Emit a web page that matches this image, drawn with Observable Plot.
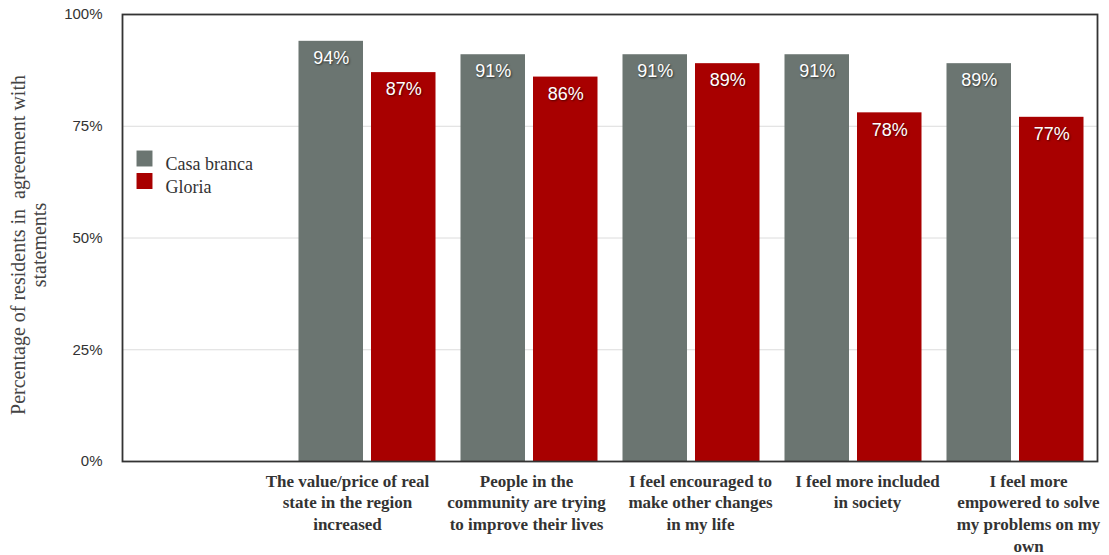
<!DOCTYPE html>
<html>
<head>
<meta charset="utf-8">
<script src="https://cdn.jsdelivr.net/npm/d3@7"></script>
<script src="https://cdn.jsdelivr.net/npm/@observablehq/plot@0.6"></script>
<style>
  html, body { margin: 0; padding: 0; background: #fff; }
  .vlabel text { text-shadow: 1px 1px 2px rgba(0,0,0,0.55); }
</style>
</head>
<body>
<div id="chart"></div>
<script>
const categories = [
  "The value/price of real\nstate in the region\nincreased",
  "People in the\ncommunity are trying\nto improve their lives",
  "I feel encouraged to\nmake other changes\nin my life",
  "I feel more included\nin society",
  "I feel more\nempowered to solve\nmy problems on my\nown"
];
const series = ["Casa branca", "Gloria"];
const casaBranca = [94, 91, 91, 91, 89];
const gloria = [87, 86, 89, 78, 77];
const colors = ["#6b7571", "#a80000"];
const yTicks = [0, 25, 50, 75, 100];
const yTitle = "Percentage of residents in  agreement with\nstatements";

const blank = " ";
const rows = [
  ...categories.map((c, i) => ({category: c, series: series[0], value: casaBranca[i]})),
  ...categories.map((c, i) => ({category: c, series: series[1], value: gloria[i]}))
];

const W = 1109, H = 555;
const mL = 122, mR = 12, mT = 14, mB = 94;
const band = (W - mL - mR) / (categories.length + 1);
const outer = 12.5, gap = 7.5;
const barW = (band - 2 * outer - gap) / 2;
// horizontal nudges of the category labels (style only)
const labelShift = [-20, -3, 9, 14, 13];

const serif = "'Liberation Serif', 'Times New Roman', serif";
const sans = "'Liberation Sans', Arial, sans-serif";

const seriesMarks = series.flatMap((s, i) => {
  const data = rows.filter(d => d.series === s);
  const insetLeft = i === 0 ? outer : outer + barW + gap;
  const insetRight = band - insetLeft - barW;
  const off = insetLeft + barW / 2 - band / 2;
  return [
    Plot.barY(data, {x: "category", y: "value", fill: colors[i], insetLeft, insetRight}),
    Plot.text(data, {x: "category", y: "value", text: d => d.value + "%", dx: off, dy: 17,
      fill: "white", fontSize: 18, fontFamily: sans, className: "vlabel"})
  ];
});

const labelMarks = categories.map((c, i) =>
  Plot.text([c], {x: d => d, frameAnchor: "bottom", dy: 10, dx: labelShift[i], lineAnchor: "top",
    lineHeight: 1.27, fontSize: 17, fontWeight: "bold", fontFamily: serif, fill: "#333"})
);

const legendMarks = series.flatMap((s, i) => [
  Plot.dot([s], {frameAnchor: "top-left", dx: 22, dy: 144 + 22.5 * i, symbol: "square", r: 9,
    fill: colors[i], stroke: null}),
  Plot.text([s], {frameAnchor: "top-left", dx: 43, dy: 143 + 22.5 * i, text: d => d,
    textAnchor: "start", fontSize: 18, fontFamily: serif, fill: "#333"})
]);

const chart = Plot.plot({
  width: W,
  height: H,
  marginLeft: mL,
  marginRight: mR,
  marginTop: mT,
  marginBottom: mB,
  style: {background: "#fff", color: "#333"},
  x: {domain: [blank, ...categories], padding: 0, axis: null},
  y: {domain: [0, 100], axis: null},
  marks: [
    Plot.gridY([25, 50, 75], {stroke: "#dcdcdc", strokeOpacity: 1, strokeWidth: 1}),
    ...seriesMarks,
    Plot.axisY({ticks: yTicks, tickFormat: d => d + "%", tickSize: 0, tickPadding: 20,
      fontSize: 15, fontFamily: sans, fill: "#333", label: null}),
    ...labelMarks,
    Plot.text([yTitle], {frameAnchor: "left", dx: -94, dy: 7, rotate: -90, text: d => d,
      textAnchor: "middle", fontSize: 20, fontFamily: serif, fill: "#444", lineHeight: 1.05}),
    ...legendMarks,
    Plot.frame({stroke: "#333", strokeWidth: 1.8})
  ]
});
document.getElementById("chart").appendChild(chart);
</script>
</body>
</html>
